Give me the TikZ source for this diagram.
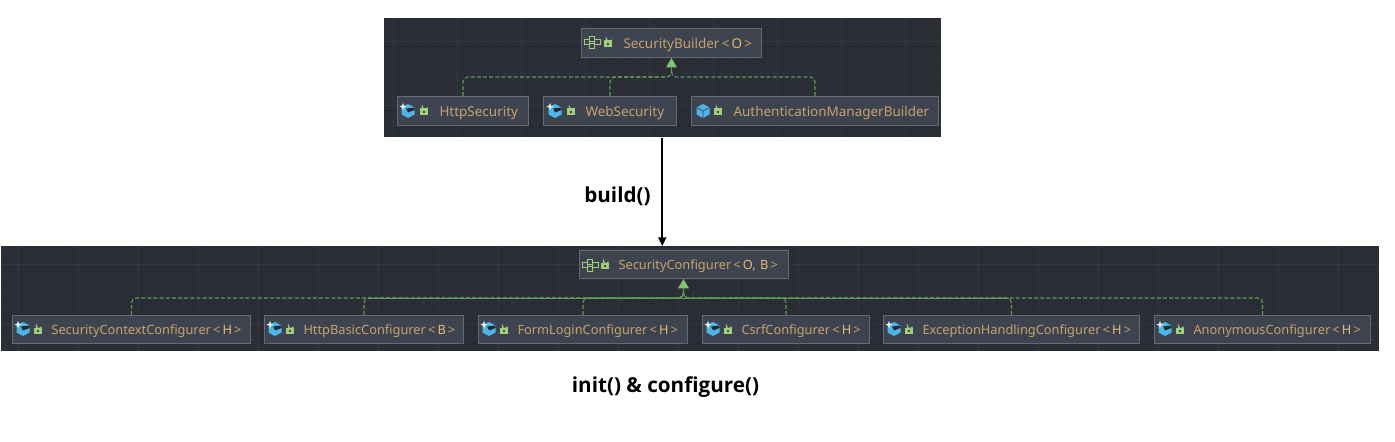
\documentclass[tikz,border=0pt]{standalone}
\usepackage{fontspec}
\setmainfont{Noto Sans}
\newfontfamily\lblfont{Open Sans}
\usetikzlibrary{arrows.meta,calc}
\hyphenpenalty=10000
\definecolor{panelbg}{HTML}{2A2D35}
\definecolor{gridmin}{HTML}{2E3137}
\definecolor{gridmaj}{HTML}{36383C}
\definecolor{boxfill}{HTML}{3D4450}
\definecolor{boxline}{HTML}{666B73}
\definecolor{nametxt}{HTML}{C9A26D}
\definecolor{gentxt}{HTML}{E6BC72}
\definecolor{depline}{HTML}{609A58}
\definecolor{tipgreen}{HTML}{7FC470}
\definecolor{lockgreen}{HTML}{A2CF78}
\definecolor{classblue}{HTML}{4DB6E8}
\tikzset{
  x=0.75pt,y=-0.75pt,
  panelbox/.style={fill=panelbg,draw=none,inner sep=0pt,anchor=north west},
  ubox/.style={fill=boxfill,draw=boxline,line width=0.75pt,inner sep=0pt,anchor=north west,align=left,text=nametxt},
  dep/.style={draw=depline,line width=0.8pt,dash pattern=on 3pt off 1.6pt,rounded corners=3.5pt},
  trunk/.style={draw=depline,line width=0.7pt},
  stem/.style={draw=depline,line width=0.9pt,-{Triangle[length=7pt,width=8pt,fill=tipgreen,color=tipgreen]},shorten >=0pt},
  flow/.style={draw=black,line width=1.25pt,-{Triangle[length=6.5pt,width=6pt]}},
  biglabel/.style={font=\lblfont\bfseries\fontsize{15.5}{18}\selectfont,text=black,inner sep=0pt}
}
\newcommand\pnl[5]{%
  \pgfmathsetlengthmacro\pw{(#3-#2)*0.75pt}\pgfmathsetlengthmacro\ph{(#5-#4)*0.75pt}%
  \node[panelbox,minimum width=\pw,minimum height=\ph] (#1) at (#2,#4) {};}
\newcommand\ubx[8]{% name l r t b pad size text
  \pgfmathsetlengthmacro\pw{(#3-#2)*0.75pt}\pgfmathsetlengthmacro\ph{(#5-#4)*0.75pt}%
  \pgfmathsetlengthmacro\pp{#6*0.75pt}%
  \node[ubox,minimum width=\pw,minimum height=\ph,text width=\pw,font=\fontsize{#7}{12}\selectfont] (#1) at (#2,#4) {\rule{0pt}{8pt}\hspace*{\pp}\smash{#8}};}
\newcommand\gn[1]{\,{\color{nametxt}<}\,{\color{gentxt}#1}\,{\color{nametxt}>}}
\newcommand\lockicon[2]{%
  \begin{scope}[shift={(#1,#2)}]
    \fill[lockgreen] (-4,-1.5) rectangle (4,5);
    \fill[boxfill] (-1.3,0.7) rectangle (1.3,2.9);
    \draw[lockgreen,line width=0.8pt] (-1.5,-1.5) -- (-1.5,-3) arc[start angle=180,end angle=20,radius=2.6];
  \end{scope}}
\newcommand\classicon[2]{%
  \begin{scope}[shift={(#1,#2)}]
    \fill[classblue] (0,-7) -- (6.5,-3.5) -- (6.5,3.5) -- (0,7) -- (-6.5,3.5) -- (-6.5,-3.5) -- cycle;
    \fill[boxfill!60!black] (-2,-2.5) -- (6.5,-3.5) -- (6.5,-1) -- (0,1.5) -- cycle;
    \fill[white!85!classblue] (-5,-8) -- (-4,-5.4) -- (-1.4,-4.4) -- (-4,-3.4) -- (-5,-0.8) -- (-6,-3.4) -- (-8.6,-4.4) -- (-6,-5.4) -- cycle;
  \end{scope}}
\newcommand\plainclass[2]{%
  \begin{scope}[shift={(#1,#2)}]
    \fill[classblue] (0,-7) -- (6.5,-3.5) -- (6.5,3.5) -- (0,7) -- (-6.5,3.5) -- (-6.5,-3.5) -- cycle;
    \draw[boxfill,line width=0.5pt] (-6.5,-3.5) -- (0,0) -- (6.5,-3.5) (0,0) -- (0,7);
  \end{scope}}
\newcommand\ifaceicon[2]{%
  \begin{scope}[shift={(#1,#2)},draw=lockgreen,line width=0.7pt]
    \draw (-2.5,-6) rectangle (2.5,-1);
    \draw (-8,-2.5) rectangle (-2.5,2.5);
    \draw (2.5,-2.5) rectangle (8,2.5);
    \draw (-2.5,1) rectangle (2.5,6);
    \draw (-2.5,-1) rectangle (2.5,1);
  \end{scope}}
\begin{document}
\begin{tikzpicture}
\useasboundingbox (0,0) rectangle (1395,442);
\fill[white] (0,0) rectangle (1395,442);
% panels
\pnl{pt}{384}{941}{18}{137}
\pnl{pb}{1}{1379}{246}{351}
% grids
\begin{scope}
  \clip (384,18) rectangle (941,137);
  \foreach \k in {0,...,36}{
    \draw[gridmin,line width=0.4pt] ({393+\k*16},18) -- ({393+\k*16},137);}
  \foreach \k in {0,...,8}{
    \draw[gridmin,line width=0.4pt] (384,{25+\k*16}) -- (941,{25+\k*16});}
  \foreach \k in {0,...,9}{
    \draw[gridmaj,line width=0.5pt] ({393+\k*64},18) -- ({393+\k*64},137);}
  \foreach \k in {0,...,2}{
    \draw[gridmaj,line width=0.5pt] (384,{41+\k*64}) -- (941,{41+\k*64});}
\end{scope}
\begin{scope}
  \clip (1,246) rectangle (1379,351);
  \foreach \k in {0,...,92}{
    \draw[gridmin,line width=0.4pt] ({3+\k*15},246) -- ({3+\k*15},351);}
  \foreach \k in {0,...,7}{
    \draw[gridmin,line width=0.4pt] (1,{249+\k*15}) -- (1379,{249+\k*15});}
  \foreach \k in {0,...,23}{
    \draw[gridmaj,line width=0.5pt] ({18+\k*60},246) -- ({18+\k*60},351);}
  \foreach \k in {0,...,1}{
    \draw[gridmaj,line width=0.5pt] (1,{264+\k*60}) -- (1379,{264+\k*60});}
\end{scope}
% boxes
\ubx{sb}{581}{761}{28}{57}{42}{10.1}{SecurityBuilder\gn{O}}
\ubx{hs}{397}{528}{96}{125}{42}{10.1}{HttpSecurity}
\ubx{ws}{543}{676}{96}{125}{42}{10.1}{WebSecurity}
\ubx{am}{691}{938}{96}{125}{42}{10.1}{AuthenticationManagerBuilder}
\ubx{sc}{579}{788}{250}{278}{39}{9.6}{SecurityConfigurer\gn{O, B}}
\ubx{scc}{12}{250}{315}{343}{39}{9.6}{SecurityContextConfigurer\gn{H}}
\ubx{hb}{264}{463}{315}{343}{39}{9.6}{HttpBasicConfigurer\gn{B}}
\ubx{fl}{478}{687}{315}{343}{39}{9.6}{FormLoginConfigurer\gn{H}}
\ubx{cs}{702}{869}{315}{343}{39}{9.6}{CsrfConfigurer\gn{H}}
\ubx{eh}{883}{1139}{315}{343}{39}{9.6}{ExceptionHandlingConfigurer\gn{H}}
\ubx{an}{1154}{1370}{315}{343}{39}{9.6}{AnonymousConfigurer\gn{H}}
% icons
\ifaceicon{592}{42}\lockicon{608}{42}
\classicon{408}{111}\lockicon{424}{110}
\classicon{555}{111}\lockicon{571}{110}
\plainclass{703}{111}\lockicon{718}{110}
\ifaceicon{590}{265}\lockicon{605}{264}
\classicon{23}{329}\lockicon{38}{329}
\classicon{275}{329}\lockicon{290}{329}
\classicon{489}{329}\lockicon{504}{329}
\classicon{713}{329}\lockicon{728}{329}
\classicon{894}{329}\lockicon{909}{329}
\classicon{1165}{329}\lockicon{1180}{329}
% connectors, top
\coordinate (jt) at ($(sb.south)+(0,19)$);
\coordinate (st) at ($(sb.south)+(0,15)$);
\draw[dep] (hs.north) |- (jt) -- (st);
\draw[dep,dash phase=4.45pt] (ws.north) |- (jt) -- (st);
\draw[dep] (am.north) |- (jt) -- (st);
\draw[stem] (st) -- (sb.south);
% connectors, bottom
\coordinate (jb) at ($(sc.south)+(-0.5,19)$);
\coordinate (sm) at ($(sc.south)+(-0.5,15)$);
\draw[dep] (scc.north) |- (jb) -- (sm);
\draw[dep] (hb.north) |- (jb) -- (sm);
\draw[dep] (fl.north) |- (jb) -- (sm);
\draw[dep] (cs.north) |- (jb) -- (sm);
\draw[dep] (eh.north) |- (jb) -- (sm);
\draw[dep] (an.north) |- (jb) -- (sm);
\draw[trunk] (hb.north |- jb) ++(4,0) -- ($(eh.north |- jb)+(-3,0)$);
\draw[stem] (sm) -- (jb |- sc.south);
% flow arrow
\draw[flow] ($(pt.south)+(-0.5,0)$) -- ($(pb.north -| pt.south)+(-0.5,0)$);
% labels
\node[biglabel] (lb) at (617.5,196.5) {build()};
\node[biglabel] (li) at (665.5,387.5) {init() \& configure()};
\end{tikzpicture}
\end{document}
